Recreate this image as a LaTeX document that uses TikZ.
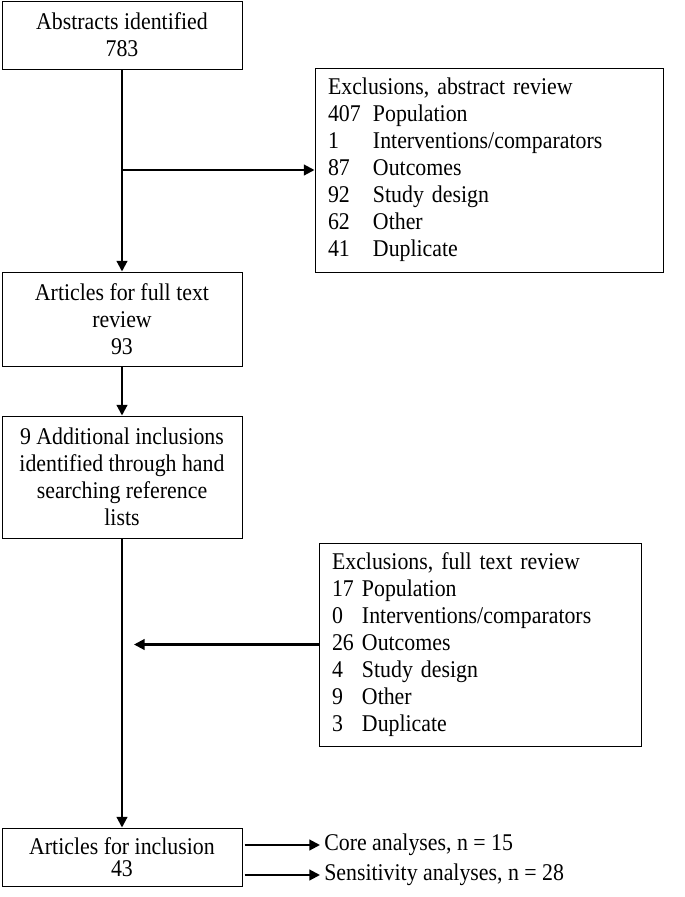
\documentclass[tikz,border=0pt]{standalone}
\usepackage{fontspec}
\setmainfont[FakeStretch=0.91]{Liberation Serif}
\usetikzlibrary{arrows.meta}
\newcommand\abscount[1]{\makebox[33.75pt][l]{#1}}
\newcommand\fullcount[1]{\makebox[22.5pt][l]{#1}}
\begin{document}
\begin{tikzpicture}[x=0.75pt, y=-0.75pt,
    >={Triangle[length=8pt,width=8pt]},
    font=\fontsize{18}{20.2}\selectfont,
    box/.style={draw, line width=0.75pt, minimum width=180pt, align=center, inner sep=0pt},
    exbox/.style={draw, line width=0.75pt, align=left, inner xsep=9.75pt, inner ysep=0pt},
    flow/.style={line width=1.6pt}]
  \useasboundingbox (0,0) rectangle (685,897);

  \node[box, minimum height=51pt] (abst) at (122,35) {Abstracts identified\\783};
  \node[box, minimum height=70.5pt] (full) at (122,319) {Articles for full text\\review\\93};
  \node[box, minimum height=91.5pt] (hand) at (122,477)
    {9 Additional inclusions\\identified through hand\\searching reference\\lists};
  \node[box, minimum height=43.5pt, font=\fontsize{18}{16.5}\selectfont] (incl) at (122,857)
    {Articles for inclusion\\43};

  \node[exbox, text width=241.5pt, minimum height=153pt] (exabs) at (489,170)
    {Exclusions, abstract review\\
     \abscount{407}Population\\
     \abscount{1}Interventions/comparators\\
     \abscount{87}Outcomes\\
     \abscount{92}Study design\\
     \abscount{62}Other\\
     \abscount{41}Duplicate};
  \node[exbox, text width=222pt, minimum height=152.25pt] (exfull) at (480,644.5)
    {Exclusions, full text review\\
     \fullcount{17}Population\\
     \fullcount{0}Interventions/comparators\\
     \fullcount{26}Outcomes\\
     \fullcount{4}Study design\\
     \fullcount{9}Other\\
     \fullcount{3}Duplicate};

  \node[anchor=west, inner sep=3pt] (core) at (320,845) {Core analyses, n = 15};
  \node[anchor=west, inner sep=3pt] (sens) at (320,875) {Sensitivity analyses, n = 28};

  \draw[flow, ->] (abst.south) -- (full.north);
  \draw[flow, ->] (abst.south |- exabs.west) -- (exabs.west);
  \draw[flow, ->] (full.south) -- (hand.north);
  \draw[flow, ->] (hand.south) -- (incl.north);
  \draw[flow, ->, shorten >=9pt] (exfull.west) -- (exfull.west -| hand.south);
  \draw[flow, ->, shorten <=1.5pt] (incl.east |- core.west) -- (core.west);
  \draw[flow, ->, shorten <=1.5pt] (incl.east |- sens.west) -- (sens.west);
\end{tikzpicture}
\end{document}
